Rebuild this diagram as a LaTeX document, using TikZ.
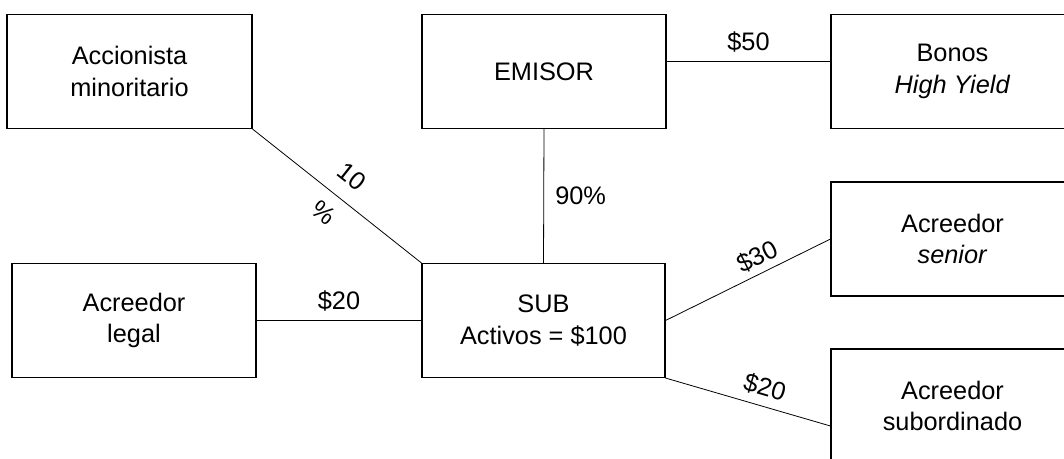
\documentclass[tikz,border=0pt]{standalone}
\usepackage{fontspec}
\setmainfont{Liberation Sans}
\begin{document}
\begin{tikzpicture}[x=0.75pt,y=-0.75pt,line width=0.6pt,
  caja/.style={draw, rectangle, line width=0.8pt, minimum width=182.25pt, minimum height=85.5pt, align=center, font=\fontsize{19}{23.7}\selectfont},
  etiq/.style={font=\fontsize{19}{23.7}\selectfont}]
\useasboundingbox (0,0) rectangle (1064,458);
\node[caja, minimum width=183.75pt] (accionista) at (129.5,71.5){Accionista\\minoritario};
\node[caja, minimum width=183pt] (emisor) at (544,71.5){EMISOR};
\node[caja] (bonos) at (952.5,71.5){Bonos\\\textit{High Yield}};
\node[caja] (senior) at (952.5,239){Acreedor\\\textit{senior}};
\node[caja] (subord) at (952.5,406){Acreedor\\subordinado};
\node[caja, minimum width=183pt] (legal) at (134,320.5){Acreedor\\legal};
\node[caja] (sub) at (543.5,320.5){SUB\\Activos = \$100};
\draw[](accionista.south east) -- node[etiq, sloped, above=8pt]{10} node[etiq, sloped, below=6pt]{\%} (sub.north west);
\draw[](sub.north) -- node[etiq, right=5pt]{90\%} (emisor.south);
\draw[]([yshift=7.5pt]emisor.east) -- node[etiq, above=3pt]{\$50} ([yshift=7.5pt]bonos.west);
\draw[](legal.east) -- node[etiq, above=3pt]{\$20} (sub.west);
\draw[](sub.east) -- node[etiq, sloped, above=1pt, pos=0.6]{\$30} (senior.west);
\draw[](sub.south east) -- node[etiq, sloped, above=3pt, pos=0.57]{\$20} ([yshift=-15pt]subord.west);
\end{tikzpicture}
\end{document}
